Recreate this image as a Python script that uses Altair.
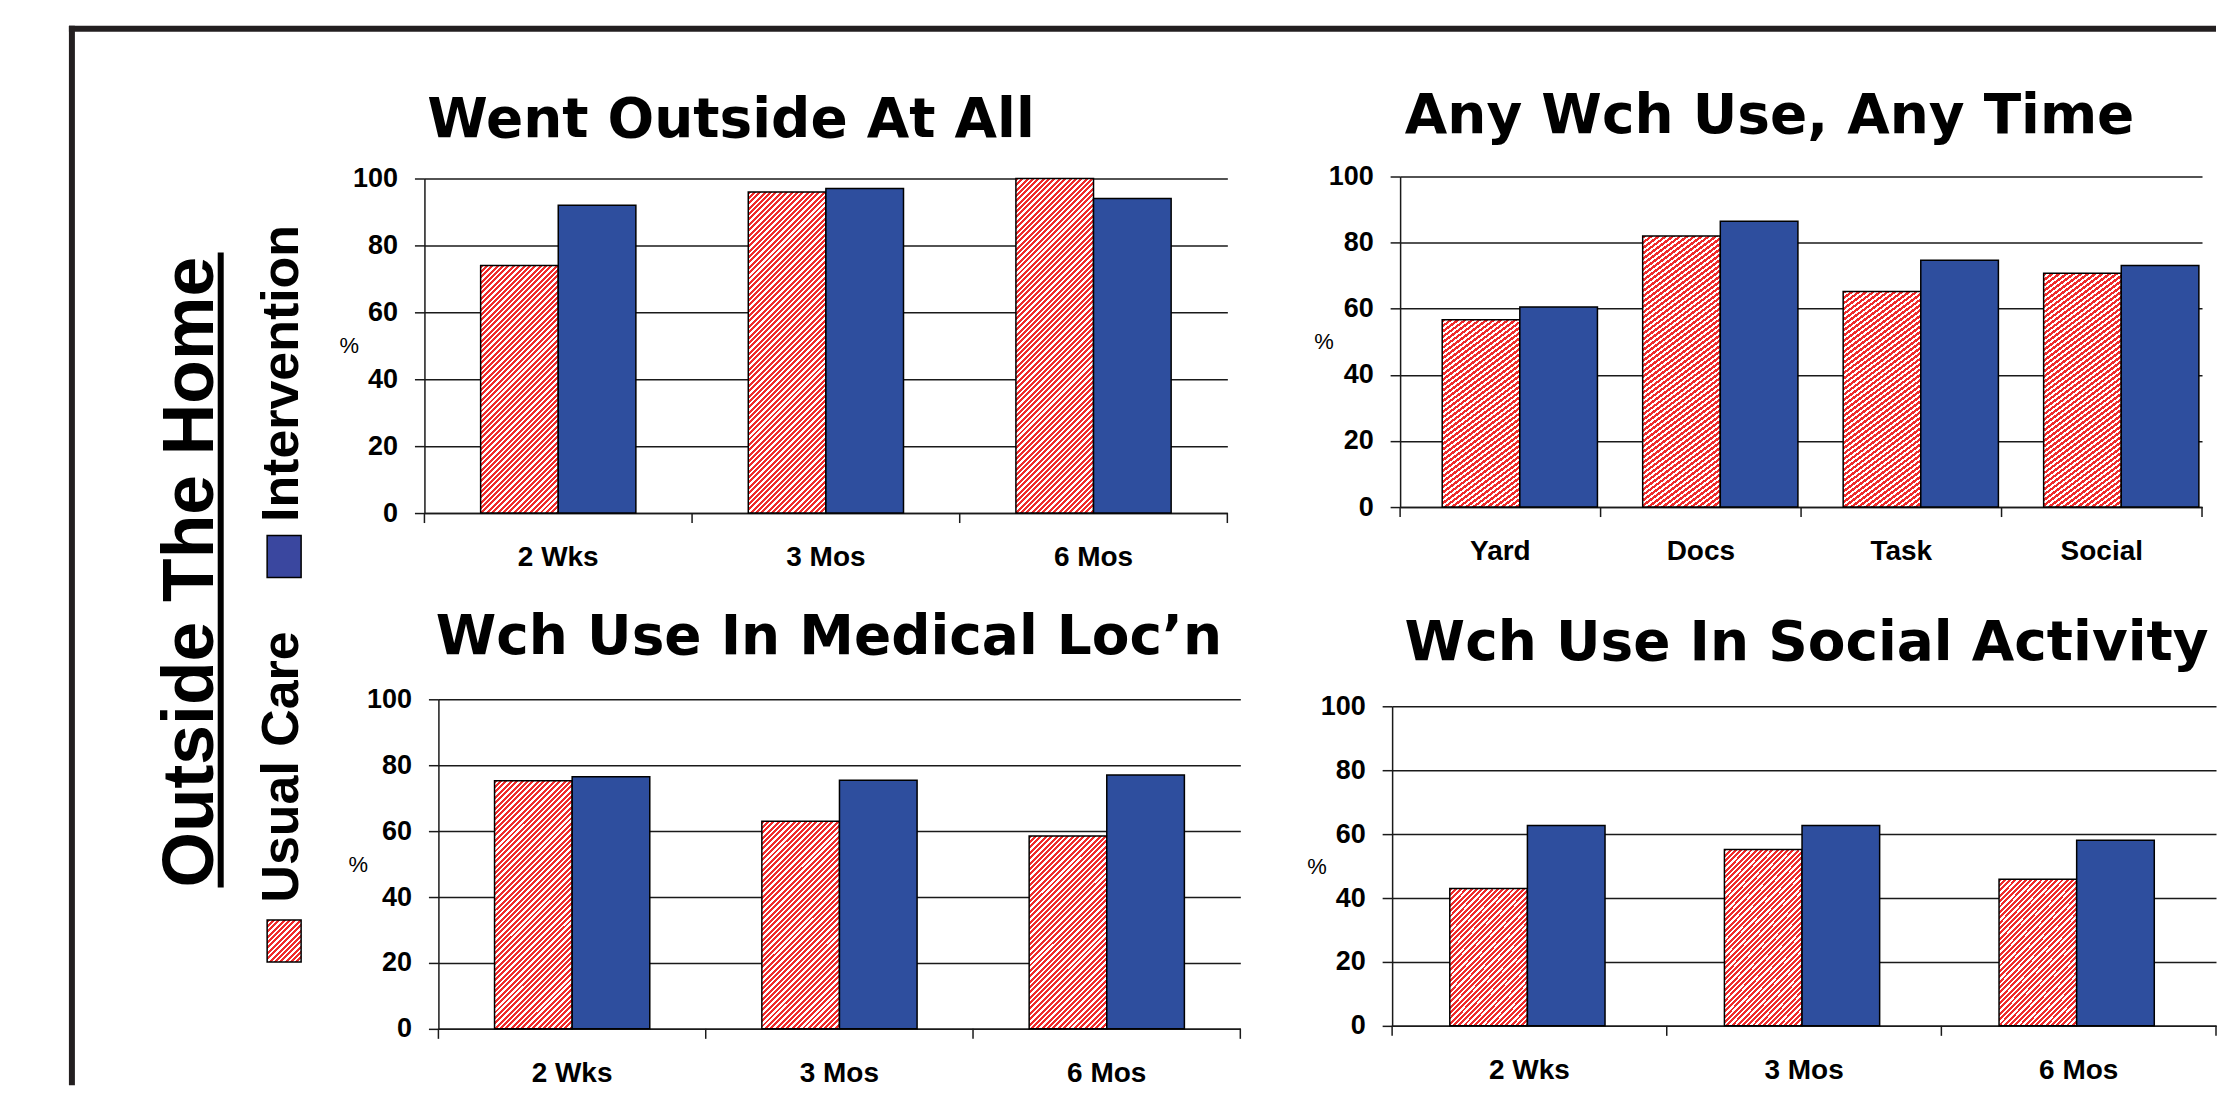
import math
import altair as alt

# ---------------- data ----------------
SERIES = ["Usual Care", "Intervention"]
LEGEND_ORDER = ["Intervention", "Usual Care"]
TIME_CATS = ["2 Wks", "3 Mos", "6 Mos"]
PLACE_CATS = ["Yard", "Docs", "Task", "Social"]

outside_uc = [74, 96, 100]
outside_iv = [92, 97, 94]

anytime_uc = [56.7, 82, 65.2, 70.7]
anytime_iv = [60.5, 86.5, 74.7, 73.1]

medical_uc = [75.3, 63, 58.5]
medical_iv = [76.5, 75.4, 77]

social_uc = [43, 55.2, 45.9]
social_iv = [62.7, 62.7, 58.1]

TITLES = ["Went Outside At All", "Any Wch Use, Any Time",
          "Wch Use In Medical Loc\u2019n", "Wch Use In Social Activity"]
Y_TICKS = [0, 20, 40, 60, 80, 100]
PANEL_TITLE = "Outside The Home"

# ---------------- style ----------------
RED = "#EF2B2B"
BLUE = "#2E4E9E"
BLUE_LEG = "#3A479F"
INK = "#1A1A1A"
FRAME = "#231F20"
P_IN, P_OUT = 0.42, 0.21
NO_VIEW = alt.ViewBackground(stroke="transparent", strokeWidth=0, fill="transparent")


def hatch(W, H, period=3.8, frac=0.55):
    """Diagonal '/' red-on-white stripes as a bbox linear gradient."""
    c = (W + H) / (W * W + H * H)
    n = (W + H) / (math.sqrt(2) * period)
    stops = []
    k = 0
    while k < n:
        a = k / n
        b = min((k + frac) / n, 1.0)
        e = min((k + 1) / n, 1.0)
        stops += [{"offset": a, "color": RED}, {"offset": b, "color": RED},
                  {"offset": b, "color": "#ffffff"}, {"offset": e, "color": "#ffffff"}]
        k += 1
    return {"gradient": "linear", "x1": 0, "y1": 0, "x2": W * c, "y2": H * c, "stops": stops}


def bar_chart(title, cats, uc, iv, w, h, top, left, t_dx, t_off, title_x):
    """w/h: panel size; top/left: inset of the plotting area inside the panel."""
    pw = w - left
    bw = pw / len(cats) * (1 - P_IN) / 2
    ph = h - top
    rows = []
    for c, a, b in zip(cats, uc, iv):
        rows.append({"cat": c, "series": SERIES[0], "value": a, "paint": hatch(bw, a / 100 * ph)})
        rows.append({"cat": c, "series": SERIES[1], "value": b, "paint": BLUE})
    bars = alt.Chart(alt.Data(values=rows)).mark_bar(stroke="black", strokeWidth=1.5).encode(
        x=alt.X("cat:N", sort=cats,
                scale=alt.Scale(paddingInner=P_IN, paddingOuter=P_OUT, range=[left, w]),
                axis=alt.Axis(title=None, labelAngle=0, ticks=False, tickSize=0, grid=False,
                              domainColor=INK, domainWidth=1.5,
                              labelFont="Liberation Sans", labelFontSize=28, labelFontWeight="bold",
                              labelColor="black", labelPadding=31)),
        xOffset=alt.XOffset("series:N", sort=SERIES, scale=alt.Scale(paddingInner=0, paddingOuter=0)),
        y=alt.Y("value:Q", stack=None,
                scale=alt.Scale(domain=[0, 100], nice=False, range=[h, top]),
                axis=alt.Axis(values=Y_TICKS, grid=True, gridColor=INK, gridWidth=1.5,
                              domainColor=INK, domainWidth=1.5, tickColor=INK, tickWidth=1.5,
                              tickSize=10, labelFont="Liberation Sans", labelFontSize=27,
                              labelFontWeight="bold", labelColor="black", labelPadding=17,
                              offset=-left,
                              title="%", titleFont="Liberation Sans", titleFontSize=22,
                              titleFontWeight="normal", titleColor="black", titleAngle=0,
                              titleAlign="right", titleBaseline="middle",
                              titleX=title_x, titleY=(h + top) / 2)),
        fill=alt.Fill("paint:N", scale=None),
    )
    edges = alt.Chart(alt.Data(values=[{"b": i} for i in range(len(cats) + 1)])).mark_rule(
        color=INK, strokeWidth=1.5).encode(
        x=alt.X("b:Q", scale=alt.Scale(domain=[0, len(cats)], nice=False, range=[left, w]), axis=None),
        y=alt.value(h), y2=alt.value(h + 10))
    return alt.layer(bars, edges).resolve_scale(x="independent").properties(
        width=w, height=h, view=NO_VIEW,
        title=alt.TitleParams(text=title, font="DejaVu Sans", fontSize=55, fontWeight="bold",
                              color="black", anchor="middle", frame="group", dx=t_dx,
                              offset=t_off, baseline="top"))


c1 = bar_chart(TITLES[0], TIME_CATS, outside_uc, outside_iv, 804, 337, 2, 0, -95, 15.3, -66)
c2 = bar_chart(TITLES[1], PLACE_CATS, anytime_uc, anytime_iv, 803, 331, 0, 0, -31.5, 17.5, -67)
c3 = bar_chart(TITLES[2], TIME_CATS, medical_uc, medical_iv, 817, 330, 0, 14, -3.5, 19, -71)
c4 = bar_chart(TITLES[3], TIME_CATS, social_uc, social_iv, 825, 327, 7, 0, 2.5, 20, -66)

# ---------------- left legend panel ----------------
one = alt.Data(values=[{"k": 0}])
frame_left = alt.Chart(one).mark_rule(color=FRAME, strokeWidth=6, strokeCap="square").encode(
    x=alt.value(-17), y=alt.value(-148), y2=alt.value(907))
frame_top = alt.Chart(one).mark_rule(color=FRAME, strokeWidth=6, strokeCap="square").encode(
    y=alt.value(-148), x=alt.value(-17), x2=alt.value(2127))
panel_title = alt.Chart(alt.Data(values=[{"label": PANEL_TITLE}])).mark_text(
    angle=270, align="left", baseline="alphabetic", font="Liberation Sans",
    fontSize=71.5, fontWeight="bold", color="black").encode(
    x=alt.value(124), y=alt.value(712), text="label:N")
underline = alt.Chart(one).mark_rule(color="black", strokeWidth=6).encode(
    x=alt.value(132), y=alt.value(76), y2=alt.value(712))

leg_rows = [{"series": "Intervention", "paint": BLUE_LEG},
            {"series": "Usual Care", "paint": hatch(34, 42)}]
leg_text = alt.Chart(alt.Data(values=leg_rows)).mark_text(
    angle=270, align="left", baseline="alphabetic", font="Liberation Sans",
    fontSize=52, fontWeight="bold", color="black").encode(
    y=alt.Y("series:N", scale=alt.Scale(type="point", domain=LEGEND_ORDER, range=[346, 727], padding=0),
            axis=None),
    x=alt.value(209.5), text="series:N")
leg_sym = alt.Chart(alt.Data(values=leg_rows)).mark_point(
    shape="M-0.81,-1H0.81V1H-0.81Z", size=1764, filled=True, opacity=1,
    stroke="black", strokeWidth=1.5).encode(
    y=alt.Y("series:N", scale=alt.Scale(type="point", domain=LEGEND_ORDER, range=[380.5, 765.5], padding=0),
            axis=None),
    x=alt.value(195.5), fill=alt.Fill("paint:N", scale=None))

legend = alt.layer(frame_left, frame_top, panel_title, underline, leg_text, leg_sym).resolve_scale(
    y="independent").properties(width=230, height=100, view=NO_VIEW)

row1 = alt.hconcat(c1, c2, spacing=85)
row2 = alt.hconcat(c3, c4, spacing=65)
grid = alt.vconcat(row1, row2, spacing=38.5)

chart = alt.hconcat(legend, grid, spacing=106, bounds="flush").properties(
    padding={"left": 59, "top": 15, "right": 0, "bottom": 0}
).configure_view(stroke="transparent", strokeWidth=0).configure(background="white")

chart.save("out.html", embed_options={"renderer": "svg", "actions": False})
